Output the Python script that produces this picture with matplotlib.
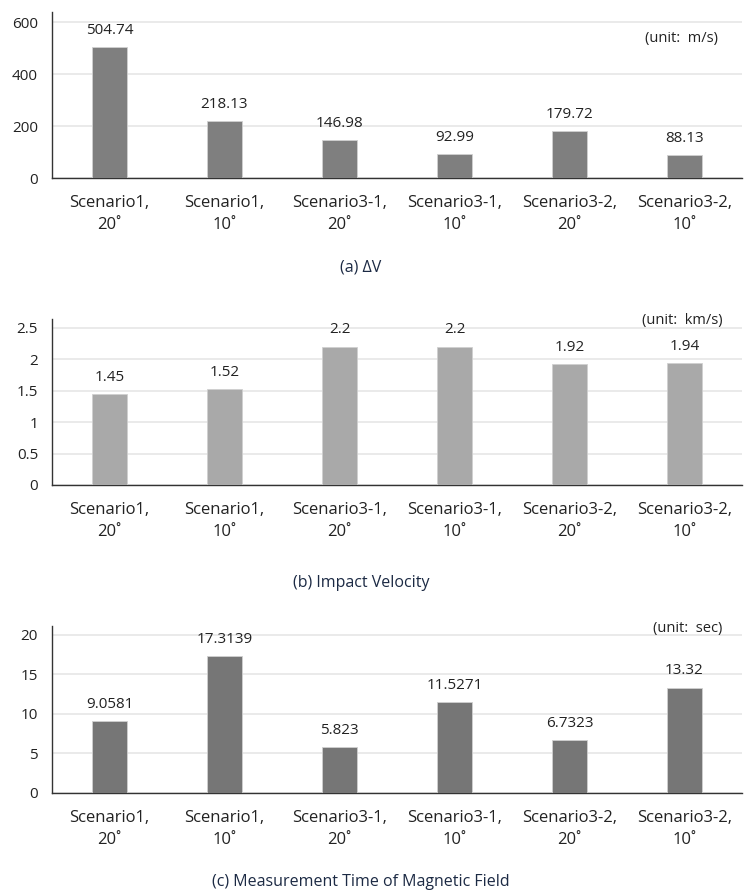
import matplotlib
matplotlib.use("Agg")
import matplotlib.pyplot as plt

plt.rcParams['font.family'] = ['Open Sans', 'DejaVu Sans']

categories = ["Scenario1,\n20˚", "Scenario1,\n10˚", "Scenario3-1,\n20˚",
              "Scenario3-1,\n10˚", "Scenario3-2,\n20˚", "Scenario3-2,\n10˚"]

delta_v = [504.74, 218.13, 146.98, 92.99, 179.72, 88.13]
delta_v_labels = ["504.74", "218.13", "146.98", "92.99", "179.72", "88.13"]

impact_velocity = [1.45, 1.52, 2.2, 2.2, 1.92, 1.94]
impact_labels = ["1.45", "1.52", "2.2", "2.2", "1.92", "1.94"]

meas_time = [9.0581, 17.3139, 5.823, 11.5271, 6.7323, 13.32]
meas_labels = ["9.0581", "17.3139", "5.823", "11.5271", "6.7323", "13.32"]

panels = [
    dict(vals=delta_v, labels=delta_v_labels, yticks=[0, 200, 400, 600], ytl=["0", "200", "400", "600"],
         ylim=640, color="#7f7f7f", unit="(unit:  m/s)", unit_x=0.965, unit_y=0.843,
         caption="(a) ΔV", rect=[0.0694, 0.8002, 0.9213, 0.1863], cap_y=1 - 268/891),
    dict(vals=impact_velocity, labels=impact_labels, yticks=[0, 0.5, 1, 1.5, 2, 2.5],
         ytl=["0", "0.5", "1", "1.5", "2", "2.5"],
         ylim=2.64, color="#a9a9a9", unit="(unit:  km/s)", unit_x=0.972, unit_y=0.988,
         caption="(b) Impact Velocity", rect=[0.0694, 0.4557, 0.9213, 0.1863], cap_y=1 - 583/891),
    dict(vals=meas_time, labels=meas_labels, yticks=[0, 5, 10, 15, 20], ytl=["0", "5", "10", "15", "20"],
         ylim=21.1, color="#767676", unit="(unit:  sec)", unit_x=0.972, unit_y=0.988,
         caption="(c) Measurement Time of Magnetic Field", rect=[0.0694, 0.1100, 0.9213, 0.1874], cap_y=1 - 882/891),
]

fig = plt.figure(figsize=(7.49, 8.91), dpi=100)
x = list(range(len(categories)))
for p in panels:
    ax = fig.add_axes(p["rect"])
    bars = ax.bar(x, p["vals"], width=0.31, color=p["color"], edgecolor="#d0d0d0", linewidth=0.6, zorder=3)
    for b, lab in zip(bars, p["labels"]):
        ax.annotate(lab, (b.get_x() + b.get_width() / 2, b.get_height()),
                    xytext=(0, 9.5), textcoords="offset points", ha="center", va="baseline",
                    fontsize=11, color="#222222")
    ax.set_xlim(-0.5, len(categories) - 0.5)
    ax.set_ylim(0, p["ylim"])
    ax.set_yticks(p["yticks"])
    ax.set_yticklabels(p["ytl"])
    ax.set_xticks(x)
    ax.set_xticklabels(categories, linespacing=1.5, fontsize=12)
    ax.tick_params(axis="both", length=0, colors="#222222")
    ax.tick_params(axis="y", pad=10, labelsize=11)
    ax.tick_params(axis="x", pad=12)
    ax.grid(axis="y", color="#e6e6e6", linewidth=1.2, zorder=0)
    for s in ["top", "right"]:
        ax.spines[s].set_visible(False)
    ax.spines["left"].set_color("#333333")
    ax.spines["bottom"].set_color("#333333")
    ax.spines["left"].set_linewidth(1.0)
    ax.spines["bottom"].set_linewidth(1.0)
    ax.text(p["unit_x"], p["unit_y"], p["unit"], transform=ax.transAxes, ha="right", va="center",
            fontsize=10.5, color="#222222")
    fig.text(0.482, p["cap_y"], p["caption"], ha="center", va="center", fontsize=11.5, color="#1c2a44")

fig.savefig("out.png", dpi=100)
